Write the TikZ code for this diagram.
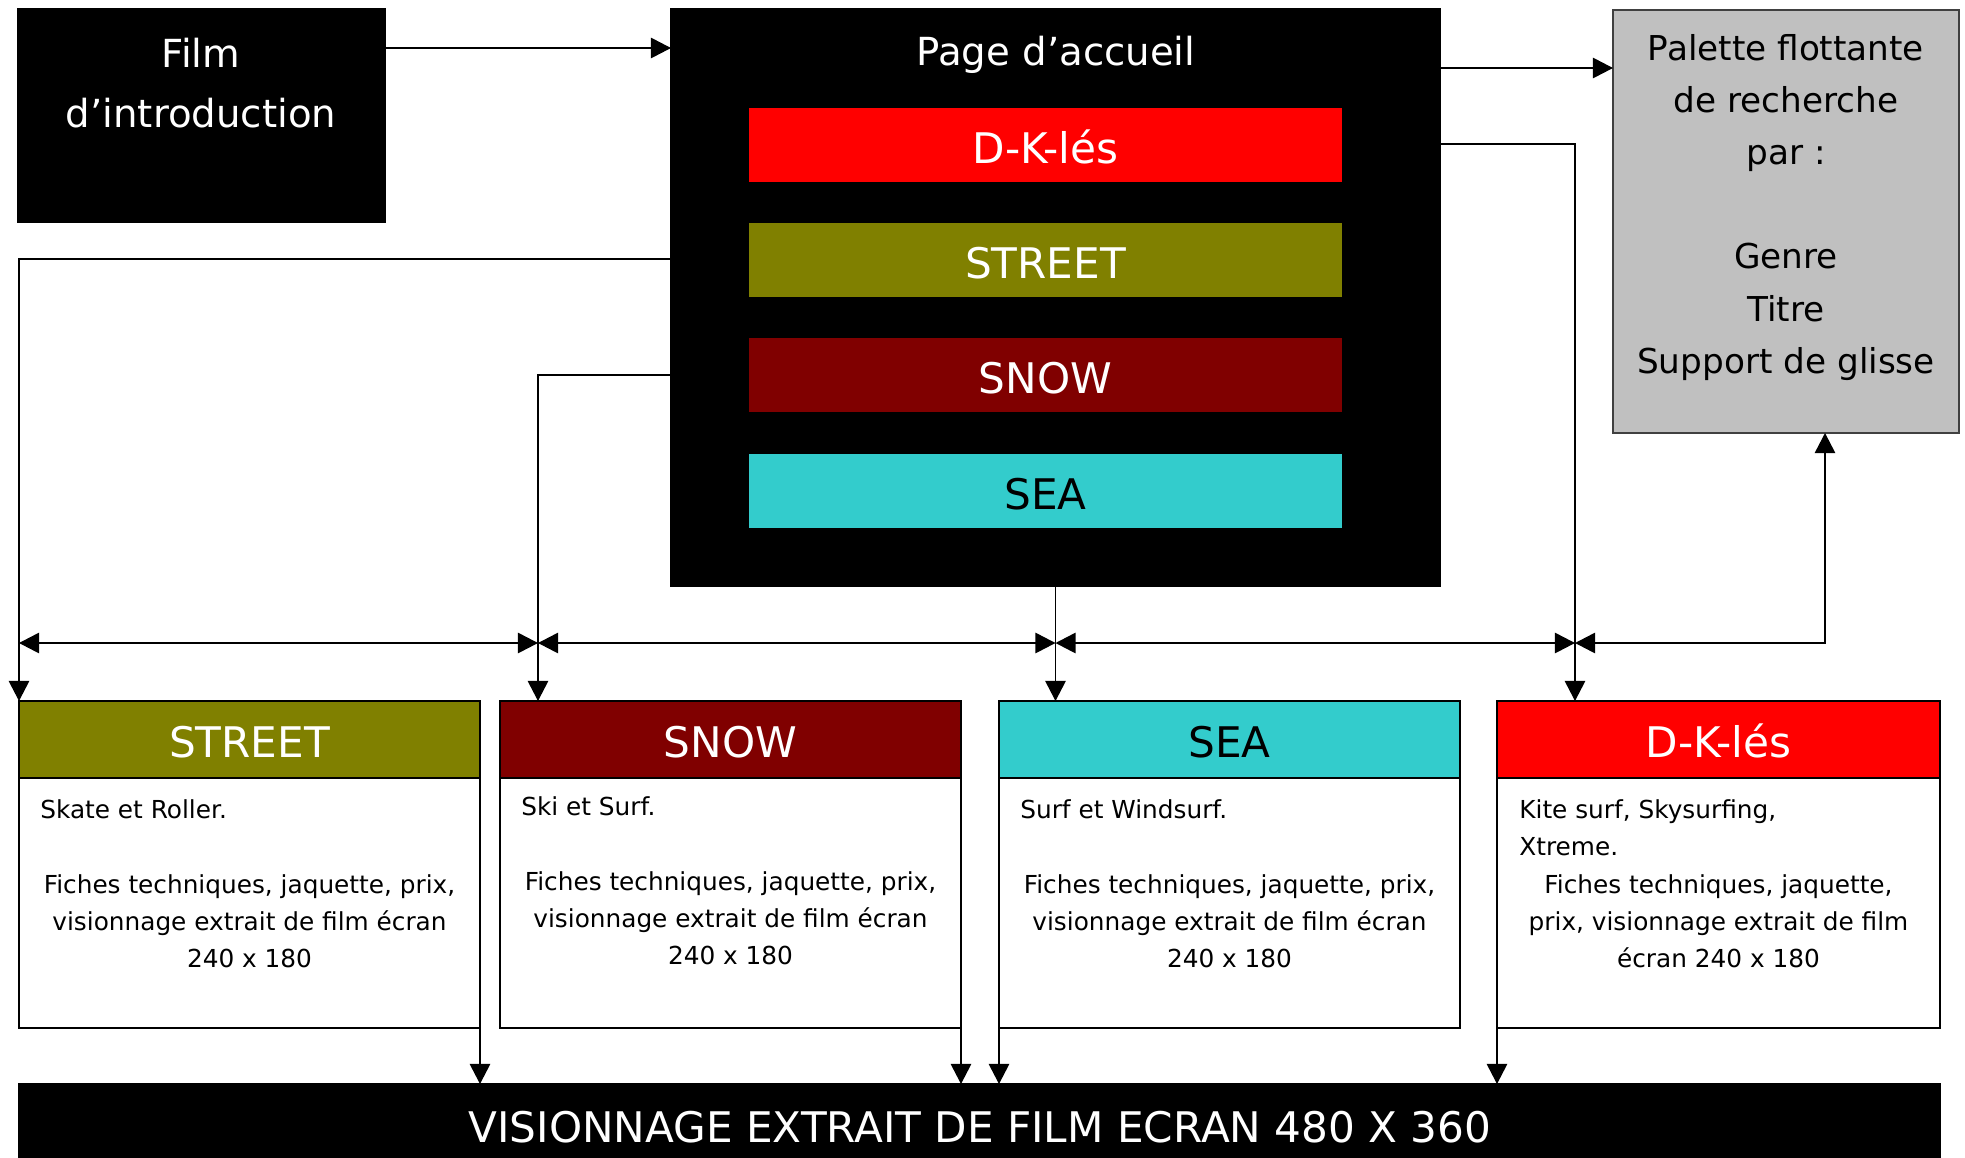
\documentclass[tikz,border=0pt]{standalone}
\usepackage{fontspec}
\setmainfont{DejaVu Sans}
\usetikzlibrary{arrows.meta,positioning}
\definecolor{coulstreet}{HTML}{808000}
\definecolor{coulsnow}{HTML}{800000}
\definecolor{coulsea}{HTML}{33CCCC}
\definecolor{couldk}{HTML}{FF0000}
\definecolor{coulpal}{HTML}{C0C0C0}
\newcommand{\pxu}{0.02cm}
\newcommand{\taille}[2]{\fontsize{#1}{#2}\selectfont}
\begin{document}
\begin{tikzpicture}[x=\pxu,y=-\pxu, line join=miter, >={Triangle[length=11.4pt,width=11.6pt]},
	boite/.style={draw=black, line width=1.1pt, inner sep=0pt, outer sep=0pt, anchor=north west},
	noire/.style={boite, fill=black},
	barre/.style={boite, draw=none, minimum width=593*\pxu, minimum height=74*\pxu, text=white, font=\taille{24}{29}, text height=21pt, text depth=0pt},
	tete/.style={boite, minimum height=77*\pxu, text=white, font=\taille{24}{29}, text height=21pt, text depth=0pt},
	corps/.style={boite, fill=white, minimum height=250*\pxu},
	fleche/.style={->, line width=.8pt},
	dfleche/.style={<->, line width=.8pt},
	txt/.style={inner sep=0pt, font=\taille{14.1}{21.05}}]
	\useasboundingbox (0,0) rectangle (1965,1157);
	
	%Film et page d'accueil (base = derniere ligne)
	\node[noire, minimum width=367*\pxu, minimum height=213*\pxu] (film) at (18,9) {};
	\node[txt, text=white, font=\taille{22}{34}, align=center, anchor=base] (filmtxt) at (201,127) {Film\\d’introduction};
	
	\node[noire, minimum width=769*\pxu, minimum height=577*\pxu] (page) at (671,9) {};
	\node[txt, text=white, font=\taille{22}{34}, anchor=base] (pagetxt) at (1056,65) {Page d’accueil};
	\node[barre, fill=couldk] (bdk) at (749,108) {D-K-lés};
	\node[barre, fill=coulstreet] (bstreet) at (749,223) {STREET};
	\node[barre, fill=coulsnow] (bsnow) at (749,338) {SNOW};
	\node[barre, fill=coulsea, text=black] (bsea) at (749,454) {SEA};
	
	%Palette
	\node[boite, fill=coulpal, draw=black!75, line width=.8pt, minimum width=346*\pxu, minimum height=423*\pxu] (palette) at (1613,10) {};
	\node[txt, font=\taille{19.5}{29.6}, align=center, anchor=base] (paltxt) at (1786,373) {Palette flottante\\de recherche\\par :\\\mbox{}\\Genre\\Titre\\Support de glisse};
	
	%Rubriques
	\node[tete, fill=coulstreet, minimum width=461*\pxu] (tstreet) at (19,701) {STREET};
	\node[corps, minimum width=461*\pxu] (cstreet) at (19,778) {};
	\node[txt, anchor=base west] (street1) at (40,818) {Skate et Roller.};
	\node[txt, anchor=base, align=center] (street2) at (249.5,967) {Fiches techniques, jaquette, prix,\\visionnage extrait de film écran\\240 x 180};
	
	\node[tete, fill=coulsnow, minimum width=461*\pxu] (tsnow) at (500,701) {SNOW};
	\node[corps, minimum width=461*\pxu] (csnow) at (500,778) {};
	\node[txt, anchor=base west] (snow1) at (521,815) {Ski et Surf.};
	\node[txt, anchor=base, align=center] (snow2) at (730.5,964) {Fiches techniques, jaquette, prix,\\visionnage extrait de film écran\\240 x 180};
	
	\node[tete, fill=coulsea, text=black, minimum width=461*\pxu] (tsea) at (999,701) {SEA};
	\node[corps, minimum width=461*\pxu] (csea) at (999,778) {};
	\node[txt, anchor=base west] (sea1) at (1020,818) {Surf et Windsurf.};
	\node[txt, anchor=base, align=center] (sea2) at (1229.5,967) {Fiches techniques, jaquette, prix,\\visionnage extrait de film écran\\240 x 180};
	
	\node[tete, fill=couldk, minimum width=443*\pxu] (tdk) at (1497,701) {D-K-lés};
	\node[corps, minimum width=443*\pxu] (cdk) at (1497,778) {};
	\node[txt, anchor=base west, align=left] (dk1) at (1519,855) {Kite surf, Skysurfing,\\Xtreme.};
	\node[txt, anchor=base, align=center] (dk2) at (1718.5,967) {Fiches techniques, jaquette,\\prix, visionnage extrait de film\\écran 240 x 180};
	
	%Visionnage
	\node[noire, minimum width=1921*\pxu, minimum height=100*\pxu] (visio) at (19,1084) {};
	\node[txt, text=white, font=\taille{24}{29}, anchor=base] (visiotxt) at (980,1142) {VISIONNAGE EXTRAIT DE FILM ECRAN 480 X 360};
	
	%Liens
	\draw[fleche] ([yshift=-39*\pxu]film.north east) -- ([yshift=-39*\pxu]page.north west);
	\draw[fleche] ([yshift=-59*\pxu]page.north east) -- ([yshift=-58*\pxu]palette.north west);
	\draw[fleche] ([yshift=-135*\pxu]page.north east) -| ([xshift=78*\pxu]tdk.north west);
	\draw[fleche] ([yshift=-250*\pxu]page.north west) -| (tstreet.north west);
	\draw[fleche] ([yshift=-366*\pxu]page.north west) -| ([xshift=38*\pxu]tsnow.north west);
	\draw[fleche] (page.south) -- (page.south |- tsea.north);
	
	\coordinate (j1) at (19,643);
	\coordinate (j2) at (538,643);
	\coordinate (j3) at (1055.5,643);
	\coordinate (j4) at (1575,643);
	\coordinate (j5) at (1825,643);
	\draw[dfleche] (j1) -- (j2);
	\draw[dfleche] (j2) -- (j3);
	\draw[dfleche] (j3) -- (j4);
	\draw[dfleche] (j4) -- (j5) -- (j5 |- palette.south);
	
	\draw[fleche] (cstreet.south east) -- (cstreet.south east |- visio.north);
	\draw[fleche] (csnow.south east) -- (csnow.south east |- visio.north);
	\draw[fleche] (csea.south west) -- (csea.south west |- visio.north);
	\draw[fleche] (cdk.south west) -- (cdk.south west |- visio.north);
\end{tikzpicture}
\end{document}
